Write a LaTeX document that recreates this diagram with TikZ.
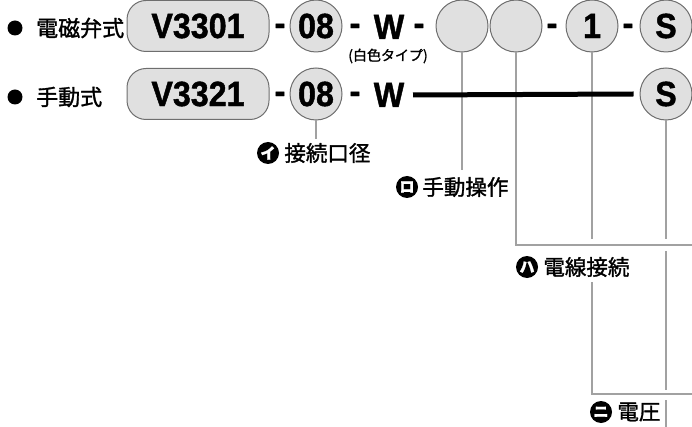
\documentclass[tikz,border=0pt]{standalone}
\usepackage{fontspec}
\setmainfont{Liberation Sans}
\newfontfamily\heavyfont{Liberation Sans}[BoldFeatures={FakeBold=1.2,FakeStretch=0.92}]
\newfontfamily\jpfont{Noto Sans CJK JP}[FakeBold=1.4]
\usetikzlibrary{positioning}

\tikzset{
  part/.style = {draw=black!57, fill=black!12, line width=1pt},
  model/.style = {part, rounded corners=19pt, minimum width=142pt, minimum height=51pt, inner sep=0pt, font=\heavyfont\fontsize{35}{35}\selectfont\bfseries},
  code/.style = {part, circle, minimum size=52pt, inner sep=0pt, font=\heavyfont\fontsize{35}{35}\selectfont\bfseries},
  sep/.style = {inner sep=0pt, anchor=base, font=\heavyfont\fontsize{35}{35}\selectfont\bfseries},
  lead/.style = {draw=black!37, line width=1.8pt},
  bar/.style = {draw=black, line width=5pt},
  dot/.style = {circle, fill=black, minimum size=15pt, inner sep=0pt},
  rowname/.style = {anchor=west, inner sep=0pt, font=\jpfont\fontsize{22}{22}\selectfont},
  badge/.style = {circle, fill=black, text=white, minimum size=22pt, inner sep=0pt, font=\jpfont\bfseries\fontsize{15}{15}\selectfont},
  caption/.style = {inner sep=0pt, font=\jpfont\fontsize{21.5}{21.5}\selectfont},
}

\begin{document}
\begin{tikzpicture}[x=1pt, y=-1pt]
  \useasboundingbox (0,0) rectangle (692,427);

  % row names
  \node[dot] (dA) at (15,28) {};
  \node[rowname] (nameA) at (36,28) {電磁弁式};
  \node[dot] (dB) at (15,97) {};
  \node[rowname] (nameB) at (36,97) {手動式};

  % leader lines (under everything else)
  \coordinate (endI) at (316,139);
  \coordinate (endRo) at (462,170);
  \coordinate (endHa) at (692,245);
  \coordinate (stopOne) at (592,239);
  \coordinate (startOne) at (592,282);
  \coordinate (endNi) at (692,394);

  \node[code] (portA) at (316,26) {08};
  \node[code] (portB) at (316,94) {08};
  \node[code] (manA) at (462,26) {};
  \node[code] (wireA) at (516,26) {};
  \node[code] (voltA) at (592,26) {1};
  \node[code] (sufA) at (666,26) {S};
  \node[code] (sufB) at (666,94) {S};

  \draw[lead] (portB.south) -- (endI);
  \draw[lead] (manA.south) -- (endRo);
  \draw[lead] (wireA.south) |- (endHa);
  \draw[lead] (voltA.south) -- (stopOne);
  \draw[lead] (startOne) |- (endNi);
  \draw[lead] (sufB.south) -- (666,239);
  \draw[lead] (666,251) -- (666,390);
  \draw[lead] (666,400) -- (666,427);

  % model boxes
  \node[model] (bodyA) at (198,26) {V3301};
  \node[model] (bodyB) at (198,94) {V3321};

  % dashes and W
  \foreach \x in {280,355,419,552,628}
    \node[sep] (hA\x) at (\x,35) {-};
  \foreach \x in {280,355}
    \node[sep] (hB\x) at (\x,103) {-};
  \node[sep] (wA) at (389,39) {W};
  \node[sep] (wB) at (389,107) {W};
  \node[caption, font=\jpfont\fontsize{14}{14}\selectfont] (note) at (388,56) {(白色タイプ)};

  % manual type: no options
  \coordinate (barA) at (413,95);
  \draw[bar] (barA) -- ([xshift=-6pt]sufB.west);

  % labels
  \node[badge] (iI) at (268,153) {イ};
  \node[caption, right=5pt of iI] (tI) {接続口径};
  \node[badge] (iRo) at (407,187) {ロ};
  \node[caption, right=4pt of iRo] (tRo) {手動操作};
  \node[badge] (iHa) at (527,267) {ハ};
  \node[caption, right=5pt of iHa] (tHa) {電線接続};
  \node[badge] (iNi) at (601,412) {ニ};
  \node[caption, right=5pt of iNi] (tNi) {電圧};
\end{tikzpicture}
\end{document}
